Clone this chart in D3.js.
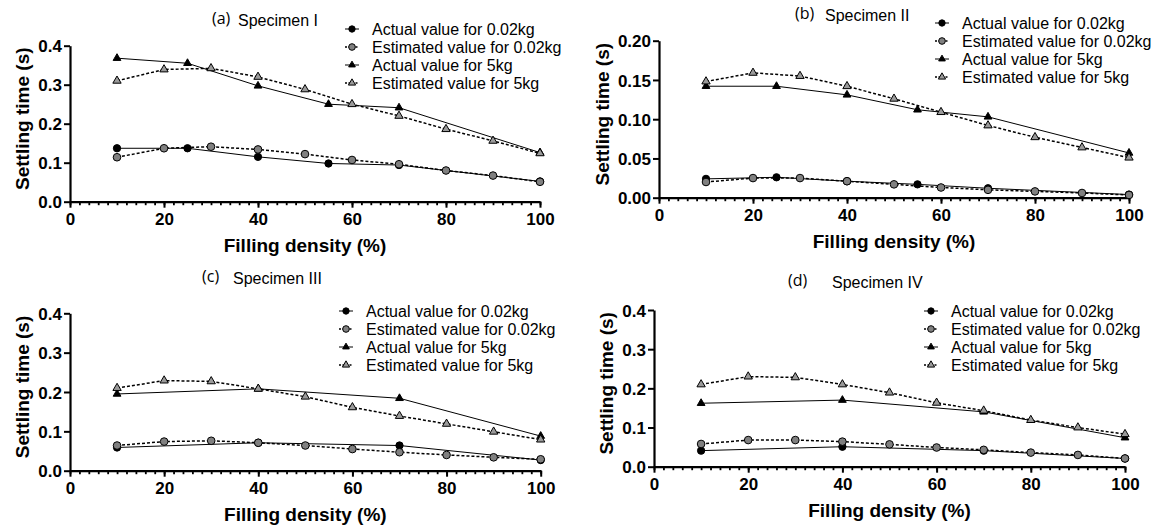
<!DOCTYPE html>
<html>
<head>
<meta charset="utf-8">
<script src="https://cdn.jsdelivr.net/npm/d3@7/dist/d3.min.js"></script>
<style>
  body { margin: 0; background: #fff; }
  svg { display: block; }
  .tick text { font-family: "Liberation Sans", Arial, sans-serif; font-weight: bold; font-size: 17px; fill: #000; }
  .axis-title { font-family: "Liberation Sans", Arial, sans-serif; font-weight: bold; font-size: 19px; }
  .legend text { font-family: "Liberation Sans", Arial, sans-serif; font-size: 16px; }
  .spec { font-family: "Liberation Sans", Arial, sans-serif; font-size: 16px; }
  .lab { font-family: "Open Sans", sans-serif; font-size: 16px; }
</style>
</head>
<body>
<svg id="chart" width="1175" height="532"></svg>
<script>
// filling density (%) where each series was sampled
var xEstimated = [10, 20, 30, 40, 50, 60, 70, 80, 90, 100];
var xActualAB = [10, 25, 40, 55, 70, 100];
var xActualCD = [10, 40, 70, 100];

// (a) Specimen I
var actualLightA = [0.137, 0.137, 0.115, 0.098, 0.094, 0.052];
var estLightA = [0.114, 0.137, 0.141, 0.134, 0.122, 0.107, 0.096, 0.080, 0.067, 0.051];
var actualHeavyA = [0.368, 0.355, 0.297, 0.250, 0.241, 0.126];
var estHeavyA = [0.310, 0.339, 0.342, 0.320, 0.288, 0.250, 0.220, 0.186, 0.156, 0.124];

// (b) Specimen II
var actualLightB = [0.024, 0.026, 0.021, 0.017, 0.012, 0.004];
var estLightB = [0.020, 0.025, 0.025, 0.021, 0.017, 0.013, 0.010, 0.008, 0.006, 0.0035];
var actualHeavyB = [0.142, 0.142, 0.131, 0.112, 0.103, 0.057];
var estHeavyB = [0.148, 0.159, 0.155, 0.142, 0.126, 0.109, 0.092, 0.077, 0.064, 0.051];

// (c) Specimen III
var actualLightC = [0.059, 0.071, 0.064, 0.027];
var estLightC = [0.064, 0.074, 0.076, 0.071, 0.064, 0.055, 0.047, 0.040, 0.034, 0.029];
var actualHeavyC = [0.195, 0.208, 0.184, 0.088];
var estHeavyC = [0.210, 0.229, 0.227, 0.208, 0.188, 0.161, 0.139, 0.119, 0.099, 0.079];

// (d) Specimen IV
var actualLightD = [0.041, 0.051, 0.041, 0.021];
var estLightD = [0.058, 0.068, 0.068, 0.064, 0.057, 0.049, 0.043, 0.036, 0.030, 0.021];
var actualHeavyD = [0.162, 0.170, 0.140, 0.074];
var estHeavyD = [0.210, 0.230, 0.228, 0.210, 0.189, 0.163, 0.143, 0.119, 0.100, 0.083];

var legendLabels = ['Actual value for 0.02kg', 'Estimated value for 0.02kg',
                    'Actual value for 5kg', 'Estimated value for 5kg'];
var xTicks = [0, 20, 40, 60, 80, 100];
var yTicks04 = [0, 0.1, 0.2, 0.3, 0.4];
var yTicks02 = [0, 0.05, 0.10, 0.15, 0.20];

// marker/line styles per series, same order as the legend
var styles = [
  { symbol: d3.symbolCircle, size: 42, fill: '#000', dash: null, width: 1 },
  { symbol: d3.symbolCircle, size: 46, fill: '#808080', dash: '3,2', width: 1.5 },
  { symbol: d3.symbolTriangle, size: 26, fill: '#000', dash: null, width: 1 },
  { symbol: d3.symbolTriangle, size: 30, fill: '#9a9a9a', dash: '3,2', width: 1.5 }
];

var panels = [
  { lab: '(a)', spec: 'Specimen I', labX: 212, specX: 238, titleY: 26,
    x0: 70, x1: 540, yTop: 45.7, yBot: 201.7, yMax: 0.4, yTicks: yTicks04, fmt: '.1f',
    legX: 372, legY: 29,
    series: [[xActualAB, actualLightA], [xEstimated, estLightA], [xActualAB, actualHeavyA], [xEstimated, estHeavyA]] },
  { lab: '(b)', spec: 'Specimen II', labX: 795, specX: 825, titleY: 21,
    x0: 659, x1: 1129, yTop: 40.7, yBot: 197.7, yMax: 0.2, yTicks: yTicks02, fmt: '.2f',
    legX: 962, legY: 23,
    series: [[xActualAB, actualLightB], [xEstimated, estLightB], [xActualAB, actualHeavyB], [xEstimated, estHeavyB]] },
  { lab: '(c)', spec: 'Specimen III', labX: 202, specX: 233, titleY: 284,
    x0: 70, x1: 540.7, yTop: 313.3, yBot: 470.7, yMax: 0.4, yTicks: yTicks04, fmt: '.1f',
    legX: 366, legY: 311,
    series: [[xActualCD, actualLightC], [xEstimated, estLightC], [xActualCD, actualHeavyC], [xEstimated, estHeavyC]] },
  { lab: '(d)', spec: 'Specimen IV', labX: 788, specX: 832, titleY: 288,
    x0: 654, x1: 1125, yTop: 310, yBot: 466.7, yMax: 0.4, yTicks: yTicks04, fmt: '.1f',
    legX: 951, legY: 311,
    series: [[xActualCD, actualLightD], [xEstimated, estLightD], [xActualCD, actualHeavyD], [xEstimated, estHeavyD]] }
];

var svg = d3.select('#chart');

panels.forEach(function (p) {
  var g = svg.append('g');
  var x = d3.scaleLinear().domain([0, 100]).range([p.x0, p.x1]);
  var y = d3.scaleLinear().domain([0, p.yMax]).range([p.yBot, p.yTop]);

  // Title
  g.append('text').attr('class', 'lab').attr('x', p.labX).attr('y', p.titleY - 2).text(p.lab);
  g.append('text').attr('class', 'spec').attr('x', p.specX).attr('y', p.titleY).text(p.spec);

  // Minor ticks every 2 units
  g.append('g')
    .attr('transform', 'translate(0,' + p.yBot + ')')
    .call(d3.axisBottom(x).tickValues(d3.range(0, 101, 2)).tickSize(3.5).tickFormat(''))
    .call(function (a) {
      a.select('.domain').remove();
      a.selectAll('line').attr('stroke-width', 1.8);
    });

  // Major x axis
  g.append('g')
    .attr('transform', 'translate(0,' + p.yBot + ')')
    .call(d3.axisBottom(x).tickValues(xTicks).tickSize(6).tickSizeOuter(0).tickPadding(5))
    .call(function (a) {
      a.select('.domain').attr('stroke-width', 2.2);
      a.selectAll('line').attr('stroke-width', 2);
    });

  // y axis
  g.append('g')
    .attr('transform', 'translate(' + p.x0 + ',0)')
    .call(d3.axisLeft(y).tickValues(p.yTicks).tickSize(6).tickSizeOuter(0).tickPadding(2)
      .tickFormat(d3.format(p.fmt)))
    .call(function (a) {
      a.select('.domain').attr('stroke-width', 2.2);
      a.selectAll('line').attr('stroke-width', 2);
      a.selectAll('text').attr('dy', '0.36em');
    });

  // Axis titles
  g.append('text').attr('class', 'axis-title')
    .attr('text-anchor', 'middle')
    .attr('x', (p.x0 + p.x1) / 2)
    .attr('y', p.yBot + 50)
    .text('Filling density (%)');
  var yMid = (p.yTop + p.yBot) / 2 - 5;
  var yTitleX = p.fmt === '.2f' ? p.x0 - 57 : p.x0 - 48;
  g.append('text').attr('class', 'axis-title')
    .attr('text-anchor', 'middle')
    .attr('transform', 'translate(' + (yTitleX + 7) + ',' + yMid + ') rotate(-90)')
    .text('Settling time (s)');

  // Series lines, then markers
  var line = d3.line().x(function (d) { return x(d[0]); }).y(function (d) { return y(d[1]); });
  p.series.forEach(function (s, i) {
    var pts = s[0].map(function (v, k) { return [v, s[1][k]]; });
    var st = styles[i];
    g.append('path')
      .datum(pts)
      .attr('d', line)
      .attr('fill', 'none')
      .attr('stroke', '#000')
      .attr('stroke-width', st.width)
      .attr('stroke-dasharray', st.dash);
  });
  p.series.forEach(function (s, i) {
    var pts = s[0].map(function (v, k) { return [v, s[1][k]]; });
    var st = styles[i];
    g.selectAll(null)
      .data(pts)
      .enter()
      .append('path')
      .attr('d', d3.symbol().type(st.symbol).size(st.size))
      .attr('transform', function (d) { return 'translate(' + x(d[0]) + ',' + y(d[1]) + ')'; })
      .attr('fill', st.fill)
      .attr('stroke', '#000')
      .attr('stroke-width', 1);
  });

  // Legend
  var leg = g.append('g').attr('class', 'legend');
  legendLabels.forEach(function (label, i) {
    var st = styles[i];
    var ly = p.legY + i * 18;
    var mx = p.legX - 20;
    leg.append('line')
      .attr('x1', mx - 7).attr('x2', mx + 7)
      .attr('y1', ly).attr('y2', ly)
      .attr('stroke', '#000')
      .attr('stroke-width', st.width)
      .attr('stroke-dasharray', st.dash ? '2,1.5' : null);
    leg.append('path')
      .attr('d', d3.symbol().type(st.symbol).size(st.size * 0.75))
      .attr('transform', 'translate(' + mx + ',' + ly + ')')
      .attr('fill', st.fill)
      .attr('stroke', '#000')
      .attr('stroke-width', 1);
    leg.append('text')
      .attr('x', p.legX)
      .attr('y', ly)
      .attr('dy', '0.35em')
      .text(label);
  });
});
</script>
</body>
</html>
